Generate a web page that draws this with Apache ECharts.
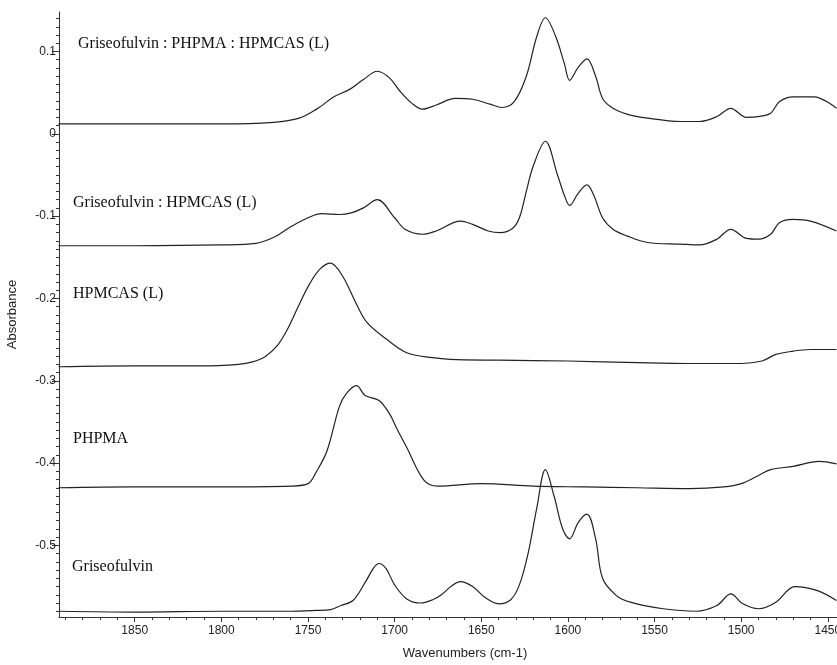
<!DOCTYPE html>
<html><head><meta charset="utf-8">
<script src="https://cdn.jsdelivr.net/npm/echarts@6/dist/echarts.min.js"></script>
<style>html,body{margin:0;padding:0;background:#fff}#c{width:837px;height:665px}</style>
</head><body><div id="c" style="width:837px;height:665px"></div>
<script>
// Tick labels
const xMajor = [1850, 1800, 1750, 1700, 1650, 1600, 1550, 1500, 1450];
const yMajor = [0.1, 0, -0.1, -0.2, -0.3, -0.4, -0.5];
const seriesNames = ['Griseofulvin : PHPMA : HPMCAS (L)', 'Griseofulvin : HPMCAS (L)', 'HPMCAS (L)', 'PHPMA', 'Griseofulvin'];

// Griseofulvin : PHPMA : HPMCAS (L)
const gphWn  = [1894, 1850, 1800, 1770, 1755, 1745, 1735, 1726, 1718, 1710, 1703, 1697, 1690, 1684, 1676, 1665, 1655, 1645, 1638, 1631, 1624, 1618, 1613, 1607, 1602, 1599, 1594, 1589, 1584, 1580, 1574, 1566, 1554, 1535, 1524, 1514, 1506, 1497, 1490, 1483, 1478, 1470, 1458, 1445];
const gphAbs = [0.012, 0.012, 0.012, 0.014, 0.019, 0.030, 0.045, 0.054, 0.066, 0.076, 0.068, 0.052, 0.037, 0.030, 0.035, 0.043, 0.042, 0.036, 0.032, 0.039, 0.070, 0.118, 0.141, 0.118, 0.085, 0.065, 0.081, 0.091, 0.070, 0.043, 0.031, 0.024, 0.019, 0.015, 0.015, 0.021, 0.031, 0.020, 0.021, 0.025, 0.039, 0.045, 0.045, 0.031];

// Griseofulvin : HPMCAS (L)
const ghWn  = [1894, 1850, 1800, 1780, 1770, 1760, 1750, 1742, 1732, 1725, 1718, 1710, 1700, 1694, 1684, 1676, 1662, 1655, 1646, 1639, 1632, 1628, 1624, 1620, 1613, 1606, 1602, 1599, 1594, 1589, 1585, 1580, 1574, 1566, 1554, 1535, 1524, 1514, 1506, 1497, 1490, 1483, 1478, 1470, 1460, 1445];
const ghAbs = [-0.136, -0.136, -0.135, -0.133, -0.126, -0.113, -0.102, -0.097, -0.098, -0.096, -0.090, -0.080, -0.102, -0.116, -0.122, -0.118, -0.106, -0.110, -0.118, -0.120, -0.115, -0.102, -0.070, -0.039, -0.009, -0.050, -0.075, -0.087, -0.072, -0.062, -0.075, -0.102, -0.116, -0.124, -0.132, -0.134, -0.135, -0.128, -0.116, -0.127, -0.128, -0.122, -0.108, -0.104, -0.106, -0.118];

// HPMCAS (L)
const hpWn  = [1894, 1850, 1812, 1790, 1782, 1775, 1768, 1762, 1755, 1749, 1743, 1737, 1730, 1722, 1716, 1705, 1693, 1678, 1668, 1640, 1600, 1560, 1530, 1500, 1488, 1480, 1470, 1460, 1445];
const hpAbs = [-0.283, -0.282, -0.282, -0.280, -0.277, -0.271, -0.258, -0.238, -0.207, -0.182, -0.164, -0.157, -0.173, -0.207, -0.229, -0.249, -0.266, -0.272, -0.274, -0.275, -0.276, -0.278, -0.279, -0.279, -0.276, -0.268, -0.264, -0.262, -0.262];

// PHPMA
const phWn  = [1894, 1850, 1800, 1760, 1750, 1745, 1739, 1732, 1728, 1722, 1717, 1709, 1703, 1699, 1693, 1683, 1675, 1650, 1620, 1590, 1560, 1530, 1510, 1500, 1490, 1483, 1470, 1455, 1445];
const phAbs = [-0.430, -0.429, -0.429, -0.428, -0.425, -0.410, -0.385, -0.332, -0.316, -0.306, -0.318, -0.324, -0.340, -0.357, -0.381, -0.421, -0.428, -0.425, -0.428, -0.429, -0.430, -0.431, -0.429, -0.425, -0.415, -0.408, -0.404, -0.398, -0.401];

// Griseofulvin
const gWn  = [1894, 1850, 1800, 1760, 1745, 1737, 1731, 1724, 1717, 1712, 1709, 1705, 1700, 1693, 1685, 1678, 1673, 1667, 1662, 1655, 1648, 1640, 1633, 1628, 1623, 1618, 1613, 1608, 1603, 1599, 1594, 1589, 1584, 1580, 1572, 1564, 1545, 1526, 1514, 1506, 1499, 1490, 1480, 1469, 1456, 1445];
const gAbs = [-0.580, -0.581, -0.580, -0.580, -0.579, -0.578, -0.573, -0.567, -0.545, -0.527, -0.522, -0.528, -0.548, -0.565, -0.570, -0.566, -0.560, -0.549, -0.544, -0.550, -0.563, -0.571, -0.566, -0.548, -0.510, -0.455, -0.408, -0.440, -0.480, -0.492, -0.472, -0.462, -0.492, -0.540, -0.561, -0.569, -0.577, -0.580, -0.573, -0.559, -0.571, -0.577, -0.569, -0.550, -0.555, -0.567];

const wnList = [gphWn, ghWn, hpWn, phWn, gWn];
const absList = [gphAbs, ghAbs, hpAbs, phAbs, gAbs];

const xMin = 1444.7, xMax = 1893.7, yMin = -0.587, yMax = 0.148;
const xMinor = [];
for (let w = 1890; w >= 1450; w -= 10) if (w % 50 !== 0) xMinor.push(w);
const yMinor = [];
for (let k = 14; k >= -58; k--) if (k % 10 !== 0) yMinor.push(k / 100);

const axisCol = '#333';
const chart = echarts.init(document.getElementById('c'), null, {width: 837, height: 665});
const labelPos = [[78, 46], [73, 205], [73, 296], [73, 441], [72, 569]];

chart.setOption({
  animation: false,
  grid: {left: 59, right: 0, top: 12, bottom: 48, containLabel: false, outerBoundsMode: 'none'},
  xAxis: [{
    type: 'value', inverse: true, min: xMin, max: xMax,
    name: 'Wavenumbers (cm-1)', nameLocation: 'middle', nameGap: 30,
    nameTextStyle: {fontFamily: 'Liberation Sans', fontSize: 13, color: '#222', padding: [0, 0, 0, 34]},
    axisLine: {show: true, onZero: false, lineStyle: {color: axisCol, width: 1}},
    axisTick: {show: true, customValues: xMajor, length: 5, lineStyle: {color: axisCol}},
    axisLabel: {customValues: xMajor, fontFamily: 'Liberation Sans Narrow, Liberation Sans', fontSize: 12, color: '#222', margin: 8,
      hideOverlap: false, showMinLabel: true, showMaxLabel: true,
      formatter: v => String(Math.round(v))},
    splitLine: {show: false}
  }, {
    type: 'value', inverse: true, min: xMin, max: xMax, position: 'bottom',
    axisLine: {show: false, onZero: false},
    axisTick: {show: true, customValues: xMinor, length: 3, lineStyle: {color: axisCol}},
    axisLabel: {show: false}, splitLine: {show: false}
  }],
  yAxis: [{
    type: 'value', min: yMin, max: yMax,
    name: 'Absorbance', nameLocation: 'middle', nameGap: 40,
    nameTextStyle: {fontFamily: 'Liberation Sans', fontSize: 13, color: '#222'},
    axisLine: {show: true, onZero: false, lineStyle: {color: axisCol, width: 1}},
    axisTick: {show: true, customValues: yMajor, length: 7, lineStyle: {color: axisCol}},
    axisLabel: {customValues: yMajor, fontFamily: 'Liberation Sans Narrow, Liberation Sans', fontSize: 12, color: '#222', margin: 3,
      formatter: v => { const r = Math.round(v * 10) / 10; return r === 0 ? '0' : String(r); }},
    splitLine: {show: false}
  }, {
    type: 'value', min: yMin, max: yMax, position: 'left',
    axisLine: {show: false, onZero: false},
    axisTick: {show: true, customValues: yMinor, length: 3, lineStyle: {color: axisCol}},
    axisLabel: {show: false}, splitLine: {show: false}
  }],
  series: wnList.map((wn, i) => ({
    type: 'line', name: seriesNames[i], xAxisIndex: 0, yAxisIndex: 0,
    data: wn.map((w, j) => [w, absList[i][j]]),
    showSymbol: false, smooth: 0.35,
    lineStyle: {color: '#222', width: 1.2}
  })),
  graphic: seriesNames.map((t, i) => ({
    type: 'text', left: labelPos[i][0], top: labelPos[i][1] - 10,
    style: {text: t, font: '16px "Liberation Serif"', fill: '#111'}
  }))
});
</script></body></html>
